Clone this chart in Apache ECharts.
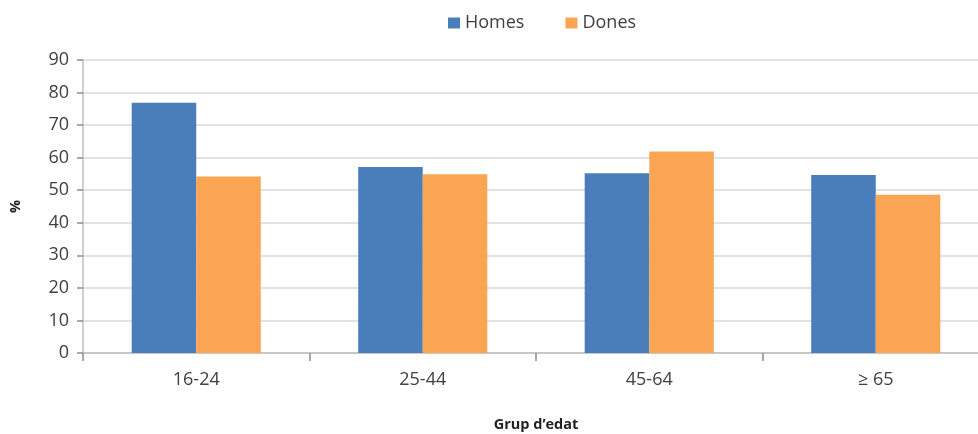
<!DOCTYPE html>
<html>
<head>
<meta charset="utf-8">
<script src="https://cdn.jsdelivr.net/npm/echarts@6/dist/echarts.min.js"></script>
<style>
  html, body { margin: 0; padding: 0; background: #fff; }
  #chart { width: 978px; height: 434px; }
</style>
</head>
<body>
<div id="chart"></div>
<script>
const categories = ['16-24', '25-44', '45-64', '≥ 65']
const homes = [76.9, 57.1, 55.2, 54.7]
const dones = [54.2, 54.9, 61.9, 48.6]
const yTicks = [0, 10, 20, 30, 40, 50, 60, 70, 80, 90]

const chart = echarts.init(document.getElementById('chart'))
const font = "'Open Sans', sans-serif"

const option = {
  animation: false,
  textStyle: { fontFamily: font },
  legend: {
    top: 9,
    left: 443,
    itemWidth: 12,
    itemHeight: 11,
    itemGap: 41,
    icon: 'rect',
    textStyle: { fontSize: 18, color: '#404040', fontFamily: font },
    data: ['Homes', 'Dones']
  },
  grid: {
    left: 83,
    top: 60,
    bottom: 81,
    width: 906,
    outerBoundsMode: 'none'
  },
  xAxis: {
    type: 'category',
    data: categories,
    name: 'Grup d’edat',
    nameLocation: 'middle',
    nameGap: 64,
    nameTextStyle: { fontSize: 14.5, fontWeight: 'bold', color: '#222', fontFamily: font },
    axisLine: { lineStyle: { color: '#bfbfbf', width: 1.5 } },
    axisTick: { show: true, length: 8, lineStyle: { color: '#8c8c8c', width: 1.5 } },
    axisLabel: { fontSize: 18, color: '#404040', margin: 18, fontFamily: font }
  },
  yAxis: {
    type: 'value',
    min: yTicks[0],
    max: yTicks[yTicks.length - 1],
    interval: 10,
    name: '%',
    nameLocation: 'middle',
    nameRotate: 90,
    nameGap: 60,
    nameTextStyle: { fontSize: 14.5, fontWeight: 'bold', color: '#222', fontFamily: font },
    axisLine: { show: true, lineStyle: { color: '#bfbfbf', width: 1.5 } },
    axisTick: { show: true, length: 6, lineStyle: { color: '#8c8c8c', width: 1.5 } },
    axisLabel: { fontSize: 18, color: '#404040', margin: 14, fontFamily: font },
    splitLine: { lineStyle: { color: '#d9d9d9', width: 1.5 } }
  },
  series: [
    {
      name: 'Homes',
      type: 'bar',
      data: homes,
      barGap: '0%',
      barCategoryGap: '43%',
      itemStyle: { color: '#4a7ebb' }
    },
    {
      name: 'Dones',
      type: 'bar',
      data: dones,
      itemStyle: { color: '#f9a553' }
    }
  ]
}

chart.setOption(option)
</script>
</body>
</html>
